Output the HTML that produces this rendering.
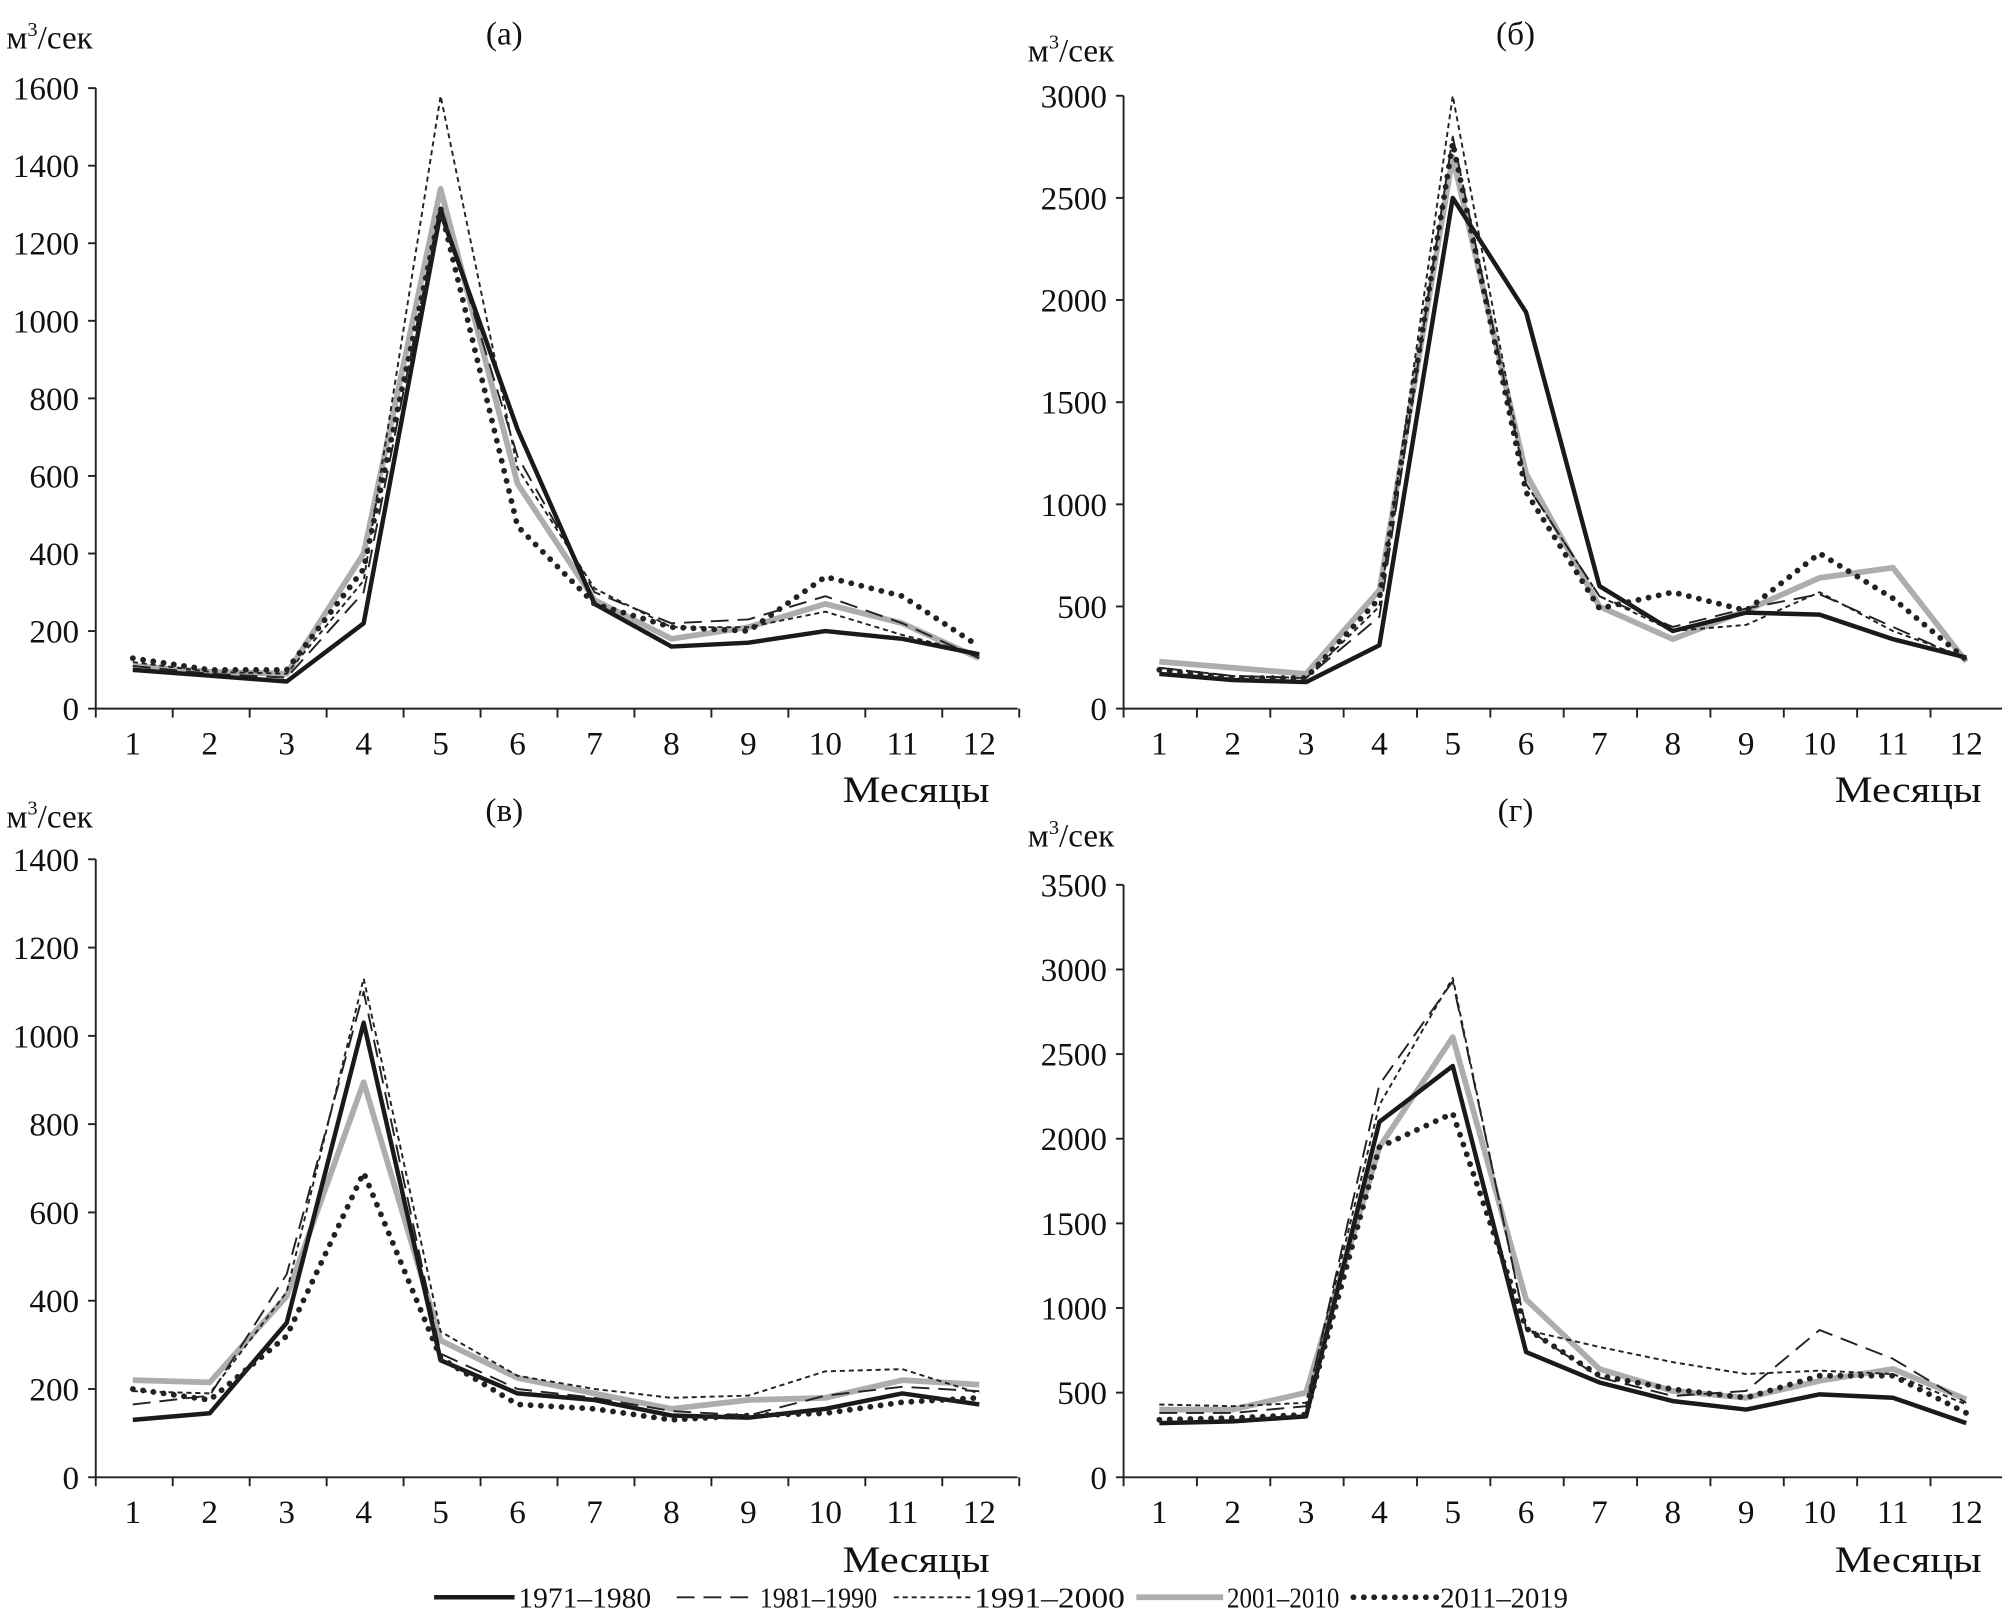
<!DOCTYPE html>
<html><head><meta charset="utf-8"><style>
html,body{margin:0;padding:0;background:#fff}
svg{display:block}
text{font-family:"Liberation Serif",serif;fill:#111}
</style></head><body>
<svg id="chart" width="2002" height="1619" viewBox="0 0 1568 1268" preserveAspectRatio="none" xmlns="http://www.w3.org/2000/svg"></svg>
<script>
const months = [1,2,3,4,5,6,7,8,9,10,11,12];
const seriesNames = ["1971–1980","1981–1990","1991–2000","2001–2010","2011–2019"];
const aTicks = [0,200,400,600,800,1000,1200,1400,1600];
const bTicks = [0,500,1000,1500,2000,2500,3000];
const cTicks = [0,200,400,600,800,1000,1200,1400];
const dTicks = [0,500,1000,1500,2000,2500,3000,3500];
const a1971 = [100,85,70,220,1280,720,270,160,170,200,180,140];
const a1981 = [110,90,80,300,1300,650,300,220,230,290,220,130];
const a1991 = [120,95,90,330,1580,620,310,210,210,250,190,140];
const a2001 = [110,95,90,400,1340,580,280,180,210,270,220,130];
const a2011 = [130,100,100,360,1290,470,270,210,200,340,290,160];
const b1971 = [170,140,130,310,2500,1940,600,380,470,460,340,250];
const b1981 = [200,160,150,450,2800,1100,550,400,490,560,400,240];
const b1991 = [200,160,150,500,3000,1100,550,380,410,570,380,250];
const b2001 = [230,200,170,580,2700,1150,500,340,480,640,690,230];
const b2011 = [190,150,150,540,2770,1060,490,570,480,760,540,240];
const c1971 = [130,145,350,1030,265,190,175,140,135,155,190,165];
const c1981 = [165,185,460,1100,280,200,180,150,140,185,205,195];
const c1991 = [195,190,420,1130,330,230,200,180,185,240,245,190];
const c2001 = [220,215,410,895,310,225,190,155,175,180,220,210];
const c2011 = [200,175,320,690,270,165,155,130,140,145,170,180];
const d1971 = [320,330,360,2100,2430,740,560,450,400,490,470,320];
const d1981 = [380,380,420,2320,2930,880,590,480,510,870,700,440];
const d1991 = [430,420,440,2200,2950,870,770,680,610,630,610,430];
const d2001 = [400,400,500,1950,2600,1050,640,510,470,570,640,460];
const d2011 = [340,350,370,1950,2150,880,600,520,470,600,600,380];

const NS="http://www.w3.org/2000/svg";
const svg=document.getElementById('chart');
function el(tag,attrs,parent){const e=document.createElementNS(NS,tag);for(const k in attrs)e.setAttribute(k,attrs[k]);(parent||svg).appendChild(e);return e;}
const styles=[
 {stroke:"#1a1a1a","stroke-width":3.5},
 {stroke:"#222","stroke-width":1.5,"stroke-dasharray":"14 7"},
 {stroke:"#222","stroke-width":1.5,"stroke-dasharray":"4 3"},
 {stroke:"#adadad","stroke-width":4.5},
 {stroke:"#222","stroke-width":4.5,"stroke-dasharray":"0.1 8","stroke-linecap":"round"}
];
const panels=[
 {key:"a",title:"(а)",tx:395,ty:35,ux:5,uy:38,ax:75,x1:104,x12:767,xend:797,y0:555,ytop:69,max:1600,ticks:aTicks,data:[a1971,a1981,a1991,a2001,a2011],mx:660,my:628},
 {key:"b",title:"(б)",tx:1187,ty:35,ux:805,uy:48,ax:880,x1:908,x12:1540,xend:1568,y0:555,ytop:75,max:3000,ticks:bTicks,data:[b1971,b1981,b1991,b2001,b2011],mx:1437,my:628},
 {key:"c",title:"(в)",tx:395,ty:643,ux:5,uy:648,ax:75,x1:104,x12:767,xend:797,y0:1157,ytop:673,max:1400,ticks:cTicks,data:[c1971,c1981,c1991,c2001,c2011],mx:660,my:1231},
 {key:"d",title:"(г)",tx:1187,ty:643,ux:805,uy:663,ax:880,x1:908,x12:1540,xend:1568,y0:1157,ytop:693,max:3500,ticks:dTicks,data:[d1971,d1981,d1991,d2001,d2011],mx:1437,my:1231}
];
panels.forEach(p=>{
 const g=el('g',{});
 
 
 const step=(p.x12-p.x1)/11;
 const xs=m=>p.x1+(m-1)*step;
 const ys=v=>p.y0-(v/p.max)*(p.y0-p.ytop);
 const t=el('text',{x:p.tx,y:p.ty,'text-anchor':'middle','font-size':26},g);t.textContent=p.title;
 
 const u=el('text',{x:p.ux,y:p.uy,'font-size':26},g);u.innerHTML='м<tspan dy="-10" font-size="16">3</tspan><tspan dy="10">/сек</tspan>';
 
 el('line',{x1:p.ax,y1:p.ytop,x2:p.ax,y2:p.y0,stroke:'#222','stroke-width':1.5},g);
 el('line',{x1:p.ax,y1:p.y0,x2:p.xend,y2:p.y0,stroke:'#222','stroke-width':1.5},g);
 p.ticks.forEach(v=>{
  el('line',{x1:p.ax-6,y1:ys(v),x2:p.ax,y2:ys(v),stroke:'#222','stroke-width':1.5},g);
  const tl=el('text',{x:p.ax-13,y:ys(v)+9,'text-anchor':'end','font-size':26},g);tl.textContent=v;
  
 });
 for(let i=0;i<=12;i++){const bx=p.ax+i*step;el('line',{x1:bx,y1:p.y0,x2:bx,y2:p.y0+7,stroke:'#222','stroke-width':1.5},g);}
 months.forEach(m=>{const tl=el('text',{x:xs(m),y:p.y0+36,'text-anchor':'middle','font-size':26},g);tl.textContent=m;
  });
 const mt=el('text',{x:p.mx,y:p.my,'font-size':29,textLength:115,lengthAdjust:'spacingAndGlyphs'},g);mt.textContent='Месяцы';
 
 [3,2,1,0,4].forEach(si=>{
  const pts=p.data[si].map((v,i)=>xs(months[i])+','+ys(v)).join(' ');
  const pl=el('polyline',Object.assign({points:pts,fill:'none','stroke-linejoin':'round'},styles[si]),g);
  
  
 });
});
const lg=el('g',{});


const lx=[340,530,700,890,1060];
const llen=[63,62,60,68,65];
const tw=[104,92,118,88,100];
seriesNames.forEach((n,i)=>{
 el('line',Object.assign({x1:lx[i],y1:1251,x2:lx[i]+llen[i],y2:1251},styles[i]),lg);
 const tt=el('text',{x:lx[i]+llen[i]+3,y:1259,'font-size':22,textLength:tw[i],lengthAdjust:'spacingAndGlyphs'},lg);tt.textContent=n;
 
 
});
</script>
</body></html>
